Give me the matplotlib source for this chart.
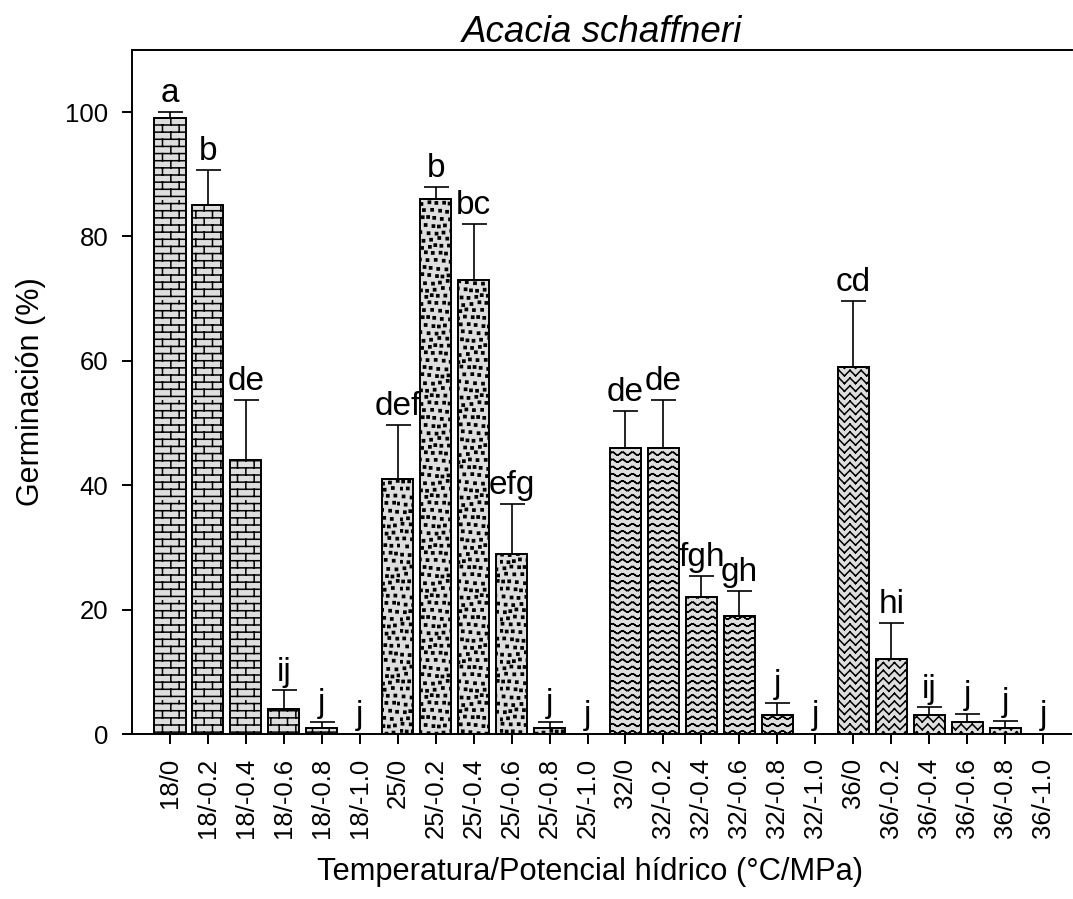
import warnings
import numpy as np
import matplotlib
matplotlib.use('Agg')
import matplotlib.pyplot as plt
import matplotlib.hatch as mhatch
from matplotlib.path import Path

warnings.filterwarnings('ignore')

# ------------------------------------------------------------
# Data
# ------------------------------------------------------------
treatments = ['18/0', '18/-0.2', '18/-0.4', '18/-0.6', '18/-0.8', '18/-1.0',
              '25/0', '25/-0.2', '25/-0.4', '25/-0.6', '25/-0.8', '25/-1.0',
              '32/0', '32/-0.2', '32/-0.4', '32/-0.6', '32/-0.8', '32/-1.0',
              '36/0', '36/-0.2', '36/-0.4', '36/-0.6', '36/-0.8', '36/-1.0']
germination = [99, 85, 44, 4, 1, 0,
               41, 86, 73, 29, 1, 0,
               46, 46, 22, 19, 3, 0,
               59, 12, 3, 2, 1, 0]
err_upper = [1.0, 5.7, 9.7, 3.0, 1.0, 0,
             8.7, 2.0, 9.0, 8.0, 1.0, 0,
             6.0, 7.7, 3.4, 4.0, 2.0, 0,
             10.7, 5.9, 1.3, 1.2, 1.1, 0]
letters = ['a', 'b', 'de', 'ij', 'j', 'j',
           'def', 'b', 'bc', 'efg', 'j', 'j',
           'de', 'de', 'fgh', 'gh', 'j', 'j',
           'cd', 'hi', 'ij', 'j', 'j', 'j']
group_hatch = ['B', 'D', 'W', 'Z']   # brick, dots, waves, zigzag


# ------------------------------------------------------------
# Custom hatch patterns (unit tile, open segments only)
# ------------------------------------------------------------
def _fill_segments(segs, vertices, codes):
    vertices[:] = np.asarray(segs, dtype=float).reshape(-1, 2)
    codes[0::2] = Path.MOVETO
    codes[1::2] = Path.LINETO


class BrickHatch(mhatch.HatchPatternBase):
    rows, cols = 14, 6

    def __init__(self, hatch, density):
        self.num_vertices = self.rows * (1 + self.cols) * 2 if 'B' in hatch else 0

    def set_vertices_and_codes(self, vertices, codes):
        h = 1.0 / self.rows
        segs = []
        for r in range(self.rows):
            y = (r + 0.5) * h
            segs.append(((0, y), (1, y)))
            shift = 0.5 / self.cols if r % 2 else 0.0
            for c in range(self.cols):
                x = (c + 0.25) / self.cols + shift
                segs.append(((x, y), (x, y + h)))
        _fill_segments(segs, vertices, codes)


class DotHatch(mhatch.HatchPatternBase):
    n = 14
    s = 0.011

    def __init__(self, hatch, density):
        self.num_vertices = 5 * self.n ** 2 if 'D' in hatch else 0

    def set_vertices_and_codes(self, vertices, codes):
        step = 1.0 / self.n
        jit = [0.0, 0.3, -0.25, 0.15, -0.35, 0.2, -0.1]
        s = self.s
        k = 0
        for i in range(self.n):
            for j in range(self.n):
                x = (j + 0.5 + (0.5 if i % 2 else 0)) * step + jit[(i * 3 + j * 5) % 7] * step * 0.6
                y = (i + 0.5) * step + jit[(i * 5 + j * 2) % 7] * step * 0.6
                x = min(max(x % 1.0, s), 1 - s)
                vertices[k:k + 5] = [(x - s, y - s), (x + s, y - s), (x + s, y + s),
                                     (x - s, y + s), (x - s, y - s)]
                codes[k:k + 5] = [Path.MOVETO, Path.LINETO, Path.LINETO,
                                  Path.LINETO, Path.CLOSEPOLY]
                k += 5


class WaveHatch(mhatch.HatchPatternBase):
    rows, periods, seg, amp = 14, 10, 6, 0.014

    def __init__(self, hatch, density):
        self.num_vertices = self.rows * self.periods * self.seg * 2 if 'W' in hatch else 0

    def set_vertices_and_codes(self, vertices, codes):
        xs = np.linspace(0, 1, self.periods * self.seg + 1)
        segs = []
        for r in range(self.rows):
            y0 = (r + 0.5) / self.rows
            ys = y0 + self.amp * np.sin(2 * np.pi * self.periods * xs)
            for a in range(len(xs) - 1):
                segs.append(((xs[a], ys[a]), (xs[a + 1], ys[a + 1])))
        _fill_segments(segs, vertices, codes)


class ZigzagHatch(mhatch.HatchPatternBase):
    rows, periods, amp = 13, 9, 0.028

    def __init__(self, hatch, density):
        self.num_vertices = self.rows * self.periods * 2 * 2 if 'Z' in hatch else 0

    def set_vertices_and_codes(self, vertices, codes):
        xs = np.linspace(0, 1, self.periods * 2 + 1)
        segs = []
        for r in range(self.rows):
            y0 = (r + 0.5) / self.rows
            ys = [y0 + (self.amp if a % 2 else -self.amp) for a in range(len(xs))]
            for a in range(len(xs) - 1):
                segs.append(((xs[a], ys[a]), (xs[a + 1], ys[a + 1])))
        _fill_segments(segs, vertices, codes)


mhatch._hatch_types.extend([BrickHatch, DotHatch, WaveHatch, ZigzagHatch])

# ------------------------------------------------------------
# Plot
# ------------------------------------------------------------
plt.rcParams['font.family'] = ['Liberation Sans', 'DejaVu Sans']
plt.rcParams['hatch.linewidth'] = 1.1

fig = plt.figure(figsize=(10.73, 8.99), dpi=100)
ax = fig.add_axes([0.123, 0.1835, 0.876, 0.761])

x = np.arange(len(treatments))
hatches = [group_hatch[i // 6] for i in range(len(treatments))]

for xi, val, h in zip(x, germination, hatches):
    if val <= 0:
        continue
    ax.bar(xi, val, width=0.82, color='#dedede', edgecolor='black',
           linewidth=1.4, hatch=h, zorder=2)

mask = np.array(err_upper) > 0
ax.errorbar(x[mask], np.array(germination)[mask],
            yerr=[np.zeros(mask.sum()), np.array(err_upper)[mask]],
            fmt='none', ecolor='black', elinewidth=1.2, capsize=9,
            capthick=1.2, zorder=3)

for xi, val, e, lab in zip(x, germination, err_upper, letters):
    ax.annotate(lab, (xi, val + e), xytext=(0, 7), textcoords='offset points',
                ha='center', va='baseline', fontsize=24)

ax.set_xlim(-1, 23.76)
ax.set_ylim(0, 110)
ax.set_yticks([0, 20, 40, 60, 80, 100])
ax.set_xticks(x)
ax.set_xticklabels(treatments, rotation=90)
ax.tick_params(axis='both', direction='out', length=7, width=1.4,
               labelsize=18.5, pad=10)

for side in ['right', 'bottom']:
    ax.spines[side].set_visible(False)
for side in ['left', 'top']:
    ax.spines[side].set_linewidth(1.4)
ax.plot([-1.27, 23.76], [0, 0], color='black', lw=1.4, clip_on=False, zorder=4,
        solid_capstyle='butt')

ax.set_xlabel('Temperatura/Potencial hídrico (°C/MPa)', fontsize=22.2)
ax.xaxis.set_label_coords(0.487, -0.18)
ax.set_ylabel('Germinación (%)', fontsize=22, labelpad=14)
ax.set_title('Acacia schaffneri', fontsize=26.5, style='italic', pad=4)

fig.savefig('out.png', dpi=100)
